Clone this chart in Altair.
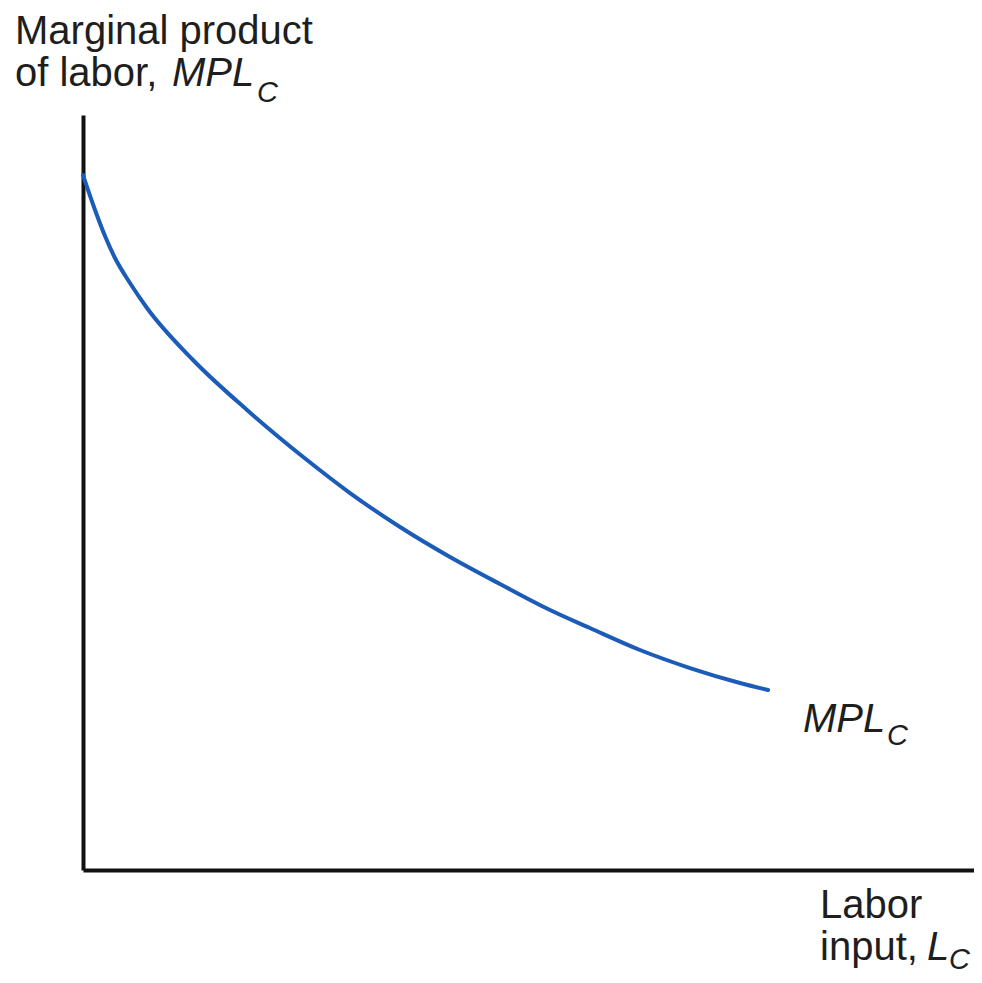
import altair as alt
import pandas as pd

# Curve readings (labor input, MPL_C) on a 0-100 relative scale
labor = [0, 1.35, 2.47, 3.59, 5.27, 7.18, 12.35, 18.41, 25.14, 29.97, 35.58, 41.19,
         46.80, 52.41, 56.90, 62.51, 68.13, 73.74, 76.88]
mpl = [92.05, 87.42, 83.97, 81.06, 77.75, 74.44, 67.55, 60.93, 54.30, 49.93, 45.43, 41.46,
       37.88, 34.44, 32.05, 29.14, 26.75, 24.77, 23.84]

y_title = ["Marginal product", "of labor, "]
x_title = ["Labor", "input, "]
curve_label = "MPL"
sub_label = "C"
x_var = "L"

W, H = 891, 755
FONT = "Liberation Sans"
FS = 40
SUB = 29
TXT = "#1e1e1e"
BLUE = "#1a5cb8"

df = pd.DataFrame({"L": labor, "MPL": mpl})

xs = alt.X("L:Q", scale=alt.Scale(domain=[0, 100], nice=False, zero=False),
           axis=alt.Axis(labels=False, ticks=False, grid=False, title=None,
                         domainColor="#111111", domainWidth=4))
ys = alt.Y("MPL:Q", scale=alt.Scale(domain=[0, 100], nice=False, zero=False),
           axis=alt.Axis(labels=False, ticks=False, grid=False, title=None,
                         domainColor="#111111", domainWidth=4))

line = alt.Chart(df).mark_line(color=BLUE, strokeWidth=4, interpolate="monotone",
                               strokeCap="round").encode(x=xs, y=ys)


def txt(s, px, py, italic=False, size=FS):
    return alt.Chart(pd.DataFrame({"t": [s]})).mark_text(
        font=FONT, fontSize=size, fontStyle="italic" if italic else "normal",
        align="left", baseline="alphabetic", color=TXT
    ).encode(text="t:N", x=alt.value(px), y=alt.value(py))


texts = [
    txt(y_title[0], -68, -71),
    txt(y_title[1], -68, -29),
    txt(curve_label, 89, -29, italic=True),
    txt(sub_label, 174, -13, italic=True, size=SUB),
    txt(curve_label, 720, 617, italic=True),
    txt(sub_label, 804, 630, italic=True, size=SUB),
    txt(x_title[0], 737, 803),
    txt(x_title[1], 737, 845),
    txt(x_var, 844, 845, italic=True),
    txt(sub_label, 866, 854, italic=True, size=SUB),
]

chart = alt.layer(line, *texts).properties(
    width=W, height=H,
    autosize=alt.AutoSizeParams(type="none"),
    padding={"left": 75, "top": 107, "right": 0, "bottom": 105},
    background="white",
).configure_view(stroke=None)

chart.save("out.html", embed_options={"renderer": "svg", "actions": False})
